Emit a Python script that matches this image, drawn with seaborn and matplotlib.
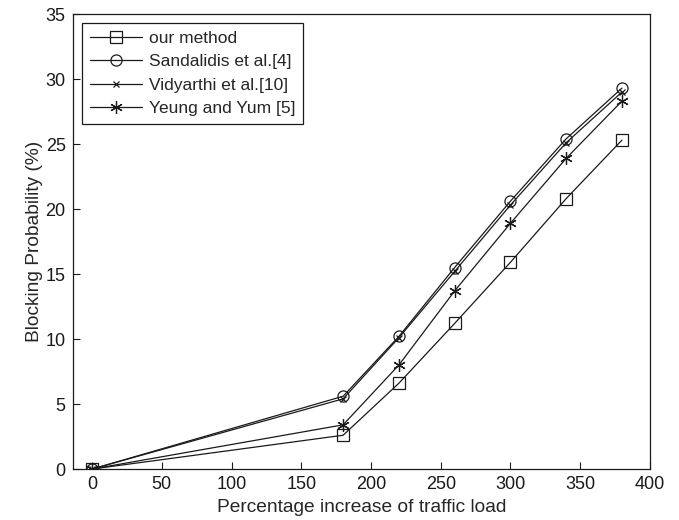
import numpy as np
import pandas as pd
import seaborn as sns
from matplotlib import pyplot as plt

load = [0, 180, 220, 260, 300, 340, 380]
our_method = [0, 2.6, 6.6, 11.2, 15.9, 20.8, 25.3]
sandalidis = [0, 5.6, 10.2, 15.5, 20.6, 25.4, 29.3]
vidyarthi = [0, 5.4, 10.1, 15.2, 20.3, 25.1, 29.0]
yeung = [0, 3.4, 8.0, 13.7, 18.9, 23.9, 28.3]

names = ['our method', 'Sandalidis et al.[4]', 'Vidyarthi et al.[10]', 'Yeung and Yum [5]']
marks = ['s', 'o', 'x', (6, 2, 0)]
sizes = [8, 8, 4.5, 9]

sns.set_theme(style='ticks')
plt.rcParams['font.family'] = ['Liberation Sans', 'DejaVu Sans']
plt.rcParams['xtick.direction'] = 'in'
plt.rcParams['ytick.direction'] = 'in'

fig = plt.figure(figsize=(6.79, 5.2), dpi=100)
ax = fig.add_axes([0.107, 0.098, 0.850, 0.875])

for name, vals, m, s in zip(names, [our_method, sandalidis, vidyarthi, yeung], marks, sizes):
    df = pd.DataFrame({'load': load, 'bp': vals})
    sns.lineplot(data=df, x='load', y='bp', ax=ax, color='k', lw=0.9,
                 marker=m, markersize=s, markerfacecolor='none',
                 markeredgecolor='k', markeredgewidth=0.9, label=name)

ax.set_xlim(-14, 400)
ax.set_ylim(0, 35)
ax.set_xticks(np.arange(0, 401, 50))
ax.set_yticks(np.arange(0, 36, 5))
ax.tick_params(labelsize=13, length=5, width=0.8, colors='k', pad=5)
for sp in ax.spines.values():
    sp.set_visible(True)
    sp.set_color('k')
    sp.set_linewidth(0.9)
ax.set_xlabel('Percentage increase of traffic load', fontsize=13.8, labelpad=4)
ax.set_ylabel('Blocking Probability (%)', fontsize=13.8, labelpad=2)

leg = ax.legend(loc='upper left', fontsize=12.5, fancybox=False, framealpha=1,
                edgecolor='k', handlelength=3.0, handletextpad=0.4,
                borderpad=0.45, labelspacing=0.48, borderaxespad=0,
                bbox_to_anchor=(0.016, 0.981))
leg.get_frame().set_linewidth(0.9)

fig.savefig('out.png', dpi=100)
